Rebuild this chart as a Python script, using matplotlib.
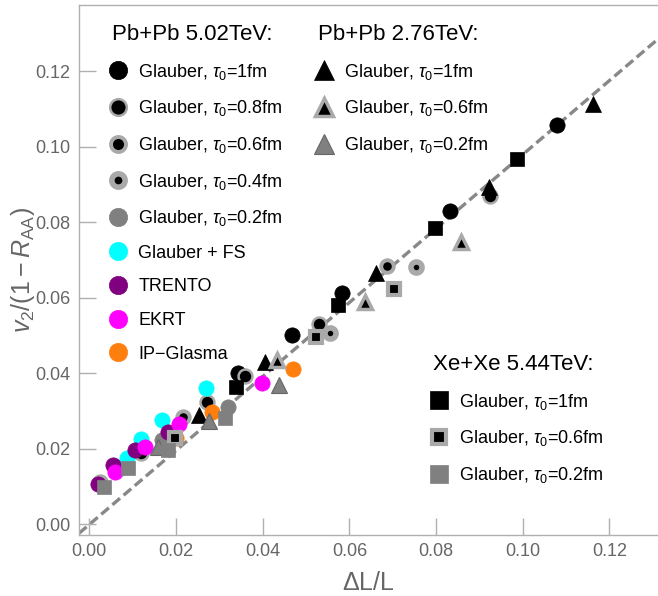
import matplotlib
matplotlib.use("Agg")
import matplotlib.pyplot as plt
import numpy as np

plt.rcParams['font.family'] = ['Liberation Sans', 'DejaVu Sans']
plt.rcParams['mathtext.fontset'] = 'custom'
plt.rcParams['mathtext.rm'] = 'Liberation Sans'
plt.rcParams['mathtext.it'] = 'Liberation Sans:italic'
plt.rcParams['mathtext.bf'] = 'Liberation Sans:bold'

# Pb+Pb 5.02 TeV
pb502_1fm_x = [0.0343, 0.0468, 0.0584, 0.0832, 0.1080]
pb502_1fm_y = [0.0400, 0.0503, 0.0612, 0.0830, 0.1057]
pb502_08_x = [0.0119, 0.0271, 0.0359, 0.0530, 0.0925]
pb502_08_y = [0.0190, 0.0325, 0.0392, 0.0531, 0.0870]
pb502_06_x = [0.0025, 0.0216, 0.0686]
pb502_06_y = [0.0113, 0.0284, 0.0684]
pb502_04_x = [0.0070, 0.0556, 0.0754]
pb502_04_y = [0.0150, 0.0507, 0.0683]
pb502_02_x = [0.0168, 0.0320]
pb502_02_y = [0.0224, 0.0311]
fs_x = [0.0087, 0.0118, 0.0168, 0.0270]
fs_y = [0.0176, 0.0226, 0.0277, 0.0362]
trento_x = [0.0020, 0.0055, 0.0105, 0.0182]
trento_y = [0.0107, 0.0158, 0.0197, 0.0245]
ekrt_x = [0.0060, 0.0129, 0.0207, 0.0398]
ekrt_y = [0.0139, 0.0205, 0.0266, 0.0375]
ipg_x = [0.0200, 0.0283, 0.0470]
ipg_y = [0.0229, 0.0298, 0.0412]

# Pb+Pb 2.76 TeV
pb276_1fm_x = [0.0254, 0.0406, 0.0662, 0.0922, 0.1162]
pb276_1fm_y = [0.0290, 0.0430, 0.0666, 0.0894, 0.1114]
pb276_06_x = [0.0433, 0.0636, 0.0857]
pb276_06_y = [0.0436, 0.0589, 0.0748]
pb276_02_x = [0.0159, 0.0276, 0.0438]
pb276_02_y = [0.0205, 0.0274, 0.0370]

# Xe+Xe 5.44 TeV
xe_1fm_x = [0.0339, 0.0574, 0.0798, 0.0987]
xe_1fm_y = [0.0364, 0.0581, 0.0785, 0.0968]
xe_06_x = [0.0198, 0.0523, 0.0703]
xe_06_y = [0.0229, 0.0497, 0.0624]
xe_02_x = [0.0034, 0.0089, 0.0182, 0.0313]
xe_02_y = [0.0099, 0.0150, 0.0197, 0.0282]

fit_slope = 0.98

ring = '#a9a9a9'
grey = '#808080'
txt = '#666666'

fig = plt.figure(figsize=(6.58, 5.96), dpi=100)
ax = fig.add_axes([0.12, 0.1023, 0.88, 0.8893])

xs = np.array([-0.0024, 0.1312])
ax.plot(xs, fit_slope * xs, color='#888888', lw=2.4, ls=(0, (3, 1.4)), zorder=1)


def pts(x, y, m, fc, ec, ms, mew, label):
    h, = ax.plot(x, y, ls='none', marker=m, mfc=fc, mec=ec, ms=ms, mew=mew,
                 label=label, zorder=3)
    return h


h1 = pts(pb502_1fm_x, pb502_1fm_y, 'o', 'black', 'black', 11, 0.5, r'Glauber, $\tau_0$=1fm')
h2 = pts(pb502_08_x, pb502_08_y, 'o', 'black', ring, 10, 1.8, r'Glauber, $\tau_0$=0.8fm')
h3 = pts(pb502_06_x, pb502_06_y, 'o', 'black', ring, 9, 2.8, r'Glauber, $\tau_0$=0.6fm')
h4 = pts(pb502_04_x, pb502_04_y, 'o', 'black', ring, 8, 4.0, r'Glauber, $\tau_0$=0.4fm')
h5 = pts(pb502_02_x, pb502_02_y, 'o', grey, grey, 11, 0.5, r'Glauber, $\tau_0$=0.2fm')
h6 = pts(fs_x, fs_y, 'o', 'cyan', 'cyan', 11, 0.5, 'Glauber + FS')
h7 = pts(trento_x, trento_y, 'o', 'purple', 'purple', 11, 0.5, 'TRENTO')
h8 = pts(ekrt_x, ekrt_y, 'o', 'magenta', 'magenta', 11, 0.5, 'EKRT')
h9 = pts(ipg_x, ipg_y, 'o', '#ff7f0e', '#ff7f0e', 11, 0.5, 'IP\u2212Glasma')

t1 = pts(pb276_1fm_x, pb276_1fm_y, '^', 'black', 'black', 12, 0.5, r'Glauber, $\tau_0$=1fm')
t2 = pts(pb276_06_x, pb276_06_y, '^', 'black', ring, 10.5, 2.5, r'Glauber, $\tau_0$=0.6fm')
t3 = pts(pb276_02_x, pb276_02_y, '^', grey, '#666666', 12, 0.8, r'Glauber, $\tau_0$=0.2fm')

s1 = pts(xe_1fm_x, xe_1fm_y, 's', 'black', 'black', 10.5, 0.5, r'Glauber, $\tau_0$=1fm')
s2 = pts(xe_06_x, xe_06_y, 's', 'black', ring, 8.5, 3.0, r'Glauber, $\tau_0$=0.6fm')
s3 = pts(xe_02_x, xe_02_y, 's', grey, grey, 10.5, 0.5, r'Glauber, $\tau_0$=0.2fm')

common = dict(frameon=False, fontsize=13, title_fontsize=16, alignment='left',
              loc='upper left', borderaxespad=0, borderpad=0, handletextpad=0.75,
              handlelength=0.7, labelspacing=0.92, markerscale=1.2)

leg1 = ax.legend([h1, h2, h3, h4, h5, h6, h7, h8, h9],
                 [h.get_label() for h in [h1, h2, h3, h4, h5, h6, h7, h8, h9]],
                 title='Pb+Pb 5.02TeV:', bbox_to_anchor=(0.057, 0.964), **common)
ax.add_artist(leg1)
leg2 = ax.legend([t1, t2, t3], [h.get_label() for h in [t1, t2, t3]],
                 title='Pb+Pb 2.76TeV:', bbox_to_anchor=(0.413, 0.964), **common)
ax.add_artist(leg2)
leg3 = ax.legend([s1, s2, s3], [h.get_label() for h in [s1, s2, s3]],
                 title='Xe+Xe 5.44TeV:', bbox_to_anchor=(0.611, 0.3415), **common)

ax.set_xlim(-0.0024, 0.1312)
ax.set_ylim(-0.0028, 0.1376)
ax.set_xticks(np.arange(0, 0.121, 0.02))
ax.set_yticks(np.arange(0, 0.121, 0.02))
ax.xaxis.set_major_formatter(matplotlib.ticker.FormatStrFormatter('%.2f'))
ax.yaxis.set_major_formatter(matplotlib.ticker.FormatStrFormatter('%.2f'))
ax.tick_params(direction='in', length=12, width=1, color='#b0b0b0',
               labelsize=13, labelcolor=txt, pad=6)
for s in ['left', 'bottom', 'top']:
    ax.spines[s].set_color('#b0b0b0')
    ax.spines[s].set_linewidth(1)
ax.spines['right'].set_visible(False)

ax.set_xlabel(r'$\Delta$L/L', fontsize=18, color=txt, labelpad=8)
ax.set_ylabel(r'$v_2/(1-R_{\mathrm{AA}})$', fontsize=18, color=txt, labelpad=-1)

fig.savefig('out.png', dpi=100)
